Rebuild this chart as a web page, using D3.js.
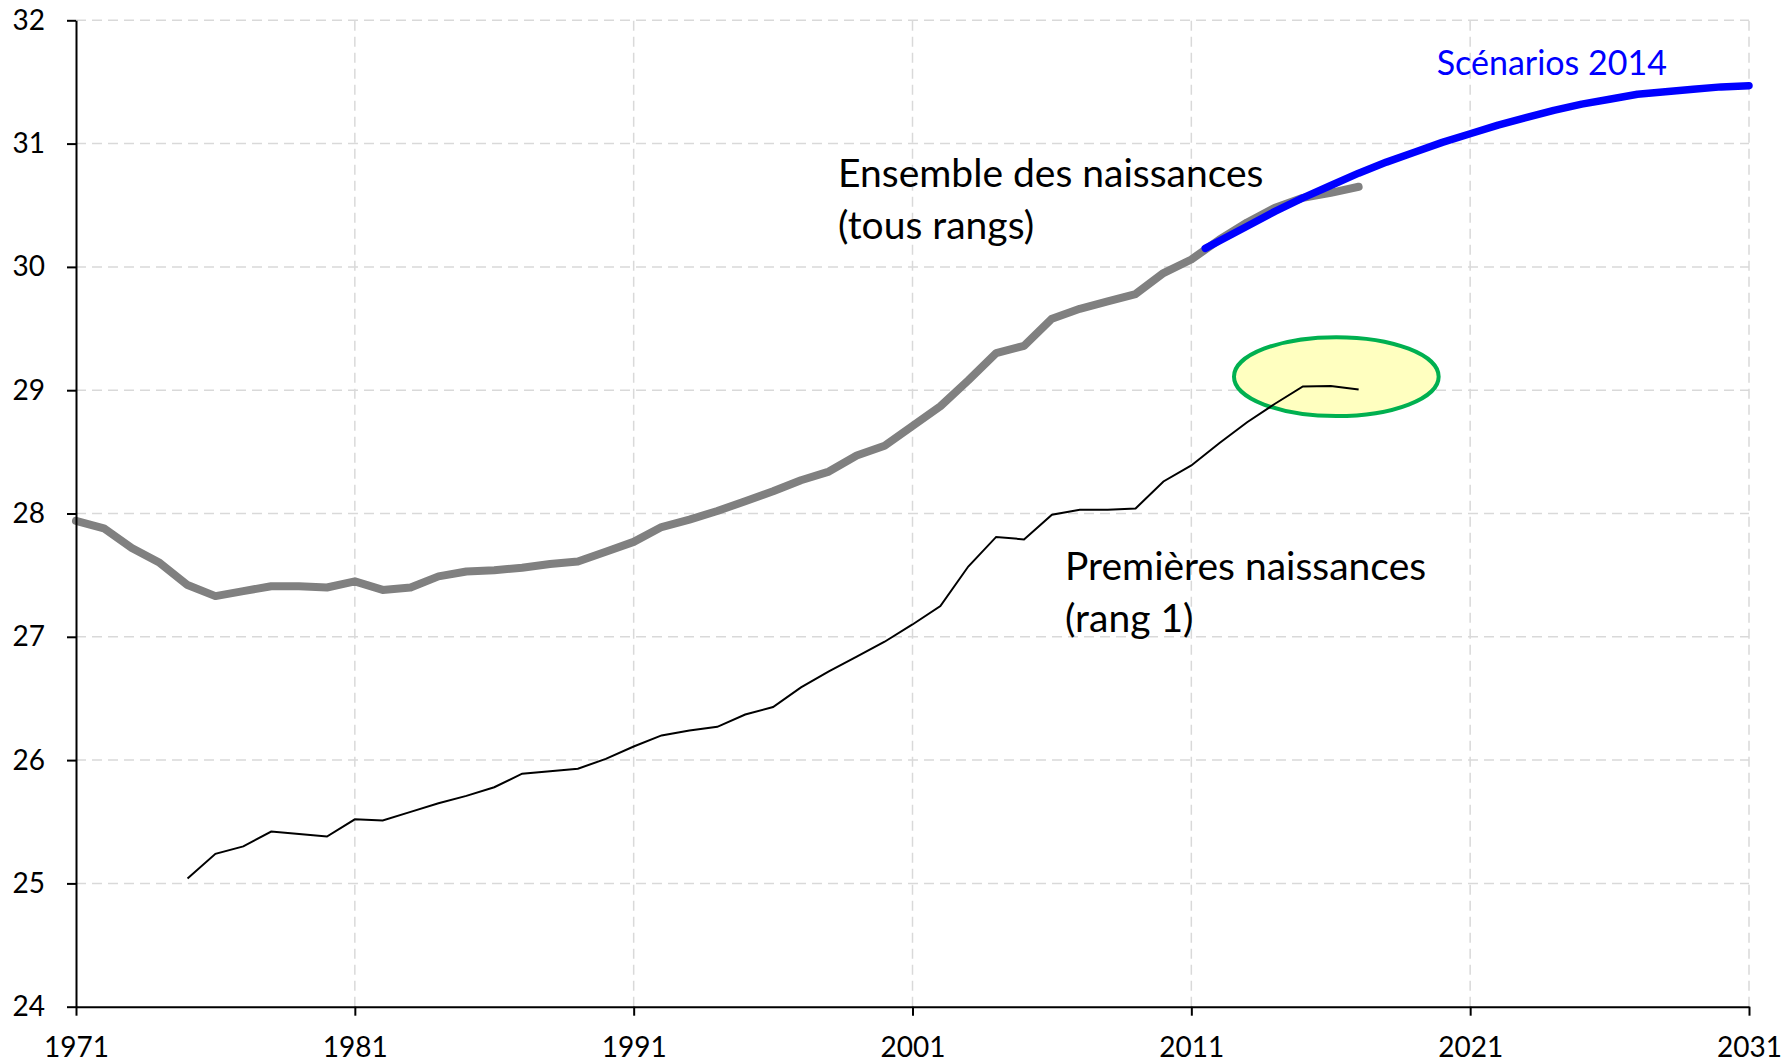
<!DOCTYPE html>
<meta charset="utf-8">
<script src="https://d3js.org/d3.v7.min.js"></script>
<style>
  body { margin: 0; background: #fff; }
  text { font-family: Lato, "Open Sans", sans-serif; }
</style>

<div id="chart"></div>

<script>
// Ensemble des naissances (tous rangs), 1971-2017
var allYears = d3.range(1971, 2018);
var allAges = [
    27.94, 27.88, 27.72, 27.60, 27.42, 27.33, 27.37, 27.41, 27.41, 27.40,
    27.45, 27.38, 27.40, 27.49, 27.53, 27.54, 27.56, 27.59, 27.61, 27.69,
    27.77, 27.89, 27.95, 28.02, 28.10, 28.18, 28.27, 28.34, 28.47, 28.55,
    28.71, 28.87, 29.08, 29.30, 29.36, 29.58, 29.66, 29.72, 29.78, 29.95,
    30.06, 30.22, 30.36, 30.48, 30.56, 30.60, 30.65
];

// Premieres naissances (rang 1), 1975-2017
var firstYears = d3.range(1975, 2018);
var firstAges = [
    25.04, 25.24, 25.30, 25.42, 25.40, 25.38, 25.52, 25.51, 25.58, 25.65,
    25.71, 25.78, 25.89, 25.91, 25.93, 26.01, 26.11, 26.20, 26.24, 26.27,
    26.37, 26.43, 26.59, 26.72, 26.84, 26.96, 27.10, 27.25, 27.57, 27.81,
    27.79, 27.99, 28.03, 28.03, 28.04, 28.26, 28.39, 28.57, 28.74, 28.89,
    29.03, 29.035, 29.005
];

// Scenarios 2014
var scenYears = [2011.5].concat(d3.range(2012, 2032));
var scenAges = [
    30.15, 30.21, 30.33, 30.45, 30.56, 30.66, 30.76, 30.85, 30.93, 31.01,
    31.08, 31.15, 31.21, 31.27, 31.32, 31.36, 31.40, 31.42, 31.44, 31.46, 31.47
];

var xTicks = [1971, 1981, 1991, 2001, 2011, 2021, 2031];
var yTicks = [24, 25, 26, 27, 28, 29, 30, 31, 32];

// highlighted zone around the last first-birth values
var zoneCenter = [2016.2, 29.11];
var zoneRadius = [3.67, 0.32];

var width = 1781, height = 1062;

var x = d3.scaleLinear().domain([1971, 2031]).range([76, 1749]);
var y = d3.scaleLinear().domain([24, 32]).range([1006.7, 20.3]);

var svg = d3.select("#chart").append("svg")
    .attr("width", width)
    .attr("height", height);

// grid
var grid = svg.append("g").attr("stroke", "#d9d9d9").attr("stroke-width", 1.5)
    .attr("stroke-dasharray", "10,6");

grid.selectAll(".hgrid")
    .data(yTicks.slice(1))
    .enter().append("line")
    .attr("x1", x(1971)).attr("x2", x(2031))
    .attr("y1", function(d) { return y(d); })
    .attr("y2", function(d) { return y(d); });

grid.selectAll(".vgrid")
    .data(xTicks.slice(1))
    .enter().append("line")
    .attr("y1", y(24)).attr("y2", y(32))
    .attr("x1", function(d) { return x(d); })
    .attr("x2", function(d) { return x(d); });

function zip(xs, ys) {
    return xs.map(function(d, i) { return [d, ys[i]]; });
}

var line = d3.line()
    .x(function(d) { return x(d[0]); })
    .y(function(d) { return y(d[1]); });

// grey line: all births
svg.append("path")
    .datum(zip(allYears, allAges))
    .attr("fill", "none")
    .attr("stroke", "#808080")
    .attr("stroke-width", 8)
    .attr("stroke-linejoin", "round")
    .attr("stroke-linecap", "round")
    .attr("d", line);

// blue line: scenarios
svg.append("path")
    .datum(zip(scenYears, scenAges))
    .attr("fill", "none")
    .attr("stroke", "#0000ff")
    .attr("stroke-width", 7.5)
    .attr("stroke-linejoin", "round")
    .attr("stroke-linecap", "round")
    .attr("d", line);

// highlight ellipse
svg.append("ellipse")
    .attr("cx", x(zoneCenter[0]))
    .attr("cy", y(zoneCenter[1]))
    .attr("rx", x(zoneCenter[0] + zoneRadius[0]) - x(zoneCenter[0]))
    .attr("ry", y(zoneCenter[1] - zoneRadius[1]) - y(zoneCenter[1]))
    .attr("fill", "#ffffc0")
    .attr("stroke", "#00b050")
    .attr("stroke-width", 4);

// black line: first births
svg.append("path")
    .datum(zip(firstYears, firstAges))
    .attr("fill", "none")
    .attr("stroke", "#000")
    .attr("stroke-width", 2)
    .attr("d", line);

// axes
var xAxis = svg.append("g")
    .attr("transform", "translate(0," + y(24) + ")")
    .call(d3.axisBottom(x).tickValues(xTicks).tickFormat(d3.format("d"))
        .tickSize(9).tickSizeOuter(0).tickPadding(21));

var yAxis = svg.append("g")
    .attr("transform", "translate(" + x(1971) + ",0)")
    .call(d3.axisLeft(y).tickValues(yTicks).tickFormat(d3.format("d"))
        .tickSize(9).tickSizeOuter(0).tickPadding(22));

svg.selectAll(".domain, .tick line").attr("stroke", "#000").attr("stroke-width", 2);
svg.selectAll(".tick text")
    .attr("fill", "#000")
    .style("font-family", "Lato, 'Open Sans', sans-serif")
    .style("font-size", "28px");

// annotations
function label(lines, year, age, size, color) {
    var t = svg.append("text")
        .attr("x", x(year))
        .attr("y", y(age))
        .attr("fill", color)
        .style("font-size", size + "px");
    lines.forEach(function(s, i) {
        t.append("tspan")
            .attr("x", x(year))
            .attr("dy", i === 0 ? 0 : 52)
            .text(s);
    });
}

label(["Ensemble des naissances", "(tous rangs)"], 1998.33, 30.65, 39, "#000");
label(["Premières naissances", "(rang 1)"], 2006.47, 27.46, 39, "#000");
label(["Scénarios 2014"], 2019.8, 31.56, 34, "#0000ff");
</script>
